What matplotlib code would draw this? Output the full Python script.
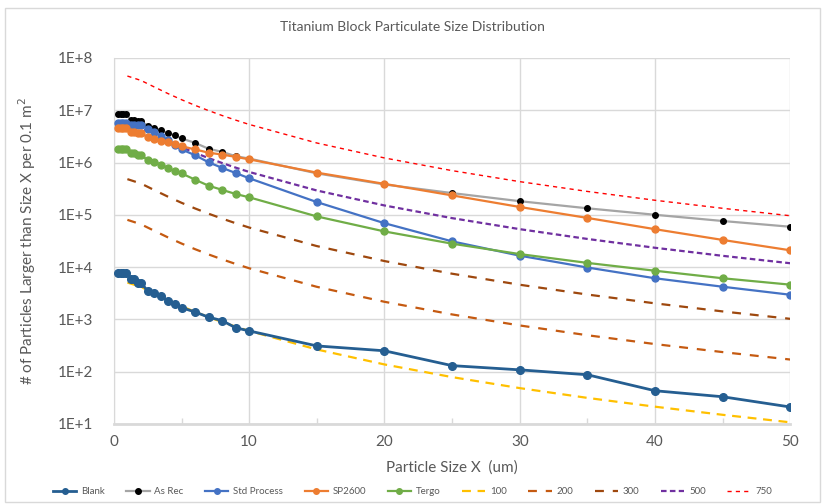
import numpy as np
import matplotlib.pyplot as plt
from matplotlib.patches import Rectangle
from matplotlib.ticker import FuncFormatter, FixedLocator

plt.rcParams['font.family'] = ['Lato', 'DejaVu Sans']

# measured data (particle size in um)
x_data = [0.3, 0.5, 0.7, 0.9, 1.3, 1.5, 1.8, 2.0, 2.5, 3, 3.5, 4, 4.5, 5, 6, 7, 8, 9, 10,
          15, 20, 25, 30, 35, 40, 45, 50]

blank = [7600, 7600, 7600, 7600, 5900, 5900, 5000, 5000, 3500, 3160, 2800, 2240, 1950, 1670,
         1380, 1100, 945, 690, 600, 310, 250, 130, 108, 87, 43, 33, 21]
as_rec = [8.3e6, 8.3e6, 8.3e6, 8.3e6, 6.5e6, 6.5e6, 6.1e6, 6.1e6, 5.1e6, 4.6e6, 4.1e6, 3.64e6,
          3.29e6, 2.88e6, 2.38e6, 1.83e6, 1.6e6, 1.32e6, 1.19e6, 6.2e5, 3.8e5, 2.6e5, 1.82e5,
          1.33e5, 1.0e5, 7.6e4, 5.9e4]
std_process = [5.75e6, 5.75e6, 5.75e6, 5.75e6, 5.2e6, 5.2e6, 5.2e6, 5.2e6, 4.4e6, 3.8e6, 3.2e6,
               2.7e6, 2.2e6, 1.78e6, 1.38e6, 1.01e6, 7.9e5, 6.3e5, 5.0e5, 1.75e5, 6.9e4, 3.1e4,
               1.65e4, 9.8e3, 6.1e3, 4.2e3, 2.95e3]
sp2600 = [4.6e6, 4.6e6, 4.6e6, 4.6e6, 3.9e6, 3.9e6, 3.6e6, 3.6e6, 3.1e6, 2.8e6, 2.6e6, 2.45e6,
          2.3e6, 2.05e6, 1.78e6, 1.54e6, 1.42e6, 1.28e6, 1.15e6, 6.4e5, 3.9e5, 2.35e5, 1.41e5,
          8.7e4, 5.3e4, 3.3e4, 2.09e4]
tergo = [1.78e6, 1.78e6, 1.78e6, 1.78e6, 1.5e6, 1.5e6, 1.4e6, 1.4e6, 1.11e6, 1.03e6, 9.0e5, 7.9e5,
         6.8e5, 6.2e5, 4.7e5, 3.6e5, 3.0e5, 2.5e5, 2.16e5, 9.3e4, 4.8e4, 2.8e4, 1.77e4, 1.2e4,
         8.5e3, 6.1e3, 4.6e3]

# cleanliness level curves
x_level = [1, 2, 3, 4, 5, 6, 7, 8, 9, 10, 15, 20, 25, 30, 35, 40, 45, 50]
lvl_100 = [5058, 4171, 3113, 2335, 1785, 1391, 1103, 889, 726, 600, 265, 137, 78.4, 48.3, 31.4,
           21.3, 14.9, 10.7]
lvl_200 = [79960, 65900, 49220, 36920, 28210, 21990, 17430, 14050, 11470, 9483, 4188, 2165, 1240,
           763, 496, 336, 236, 170]
lvl_300 = [480800, 396500, 296000, 222000, 169600, 132200, 104900, 84500, 69000, 57000, 25190,
           13020, 7455, 4587, 2980, 2020, 1416, 1021]
lvl_500 = [5565000, 4586000, 3424000, 2568000, 1963000, 1530000, 1214000, 977700, 798400, 659800,
           291500, 150700, 86260, 53090, 34480, 23370, 16390, 11820]
lvl_750 = [45100000, 37190000, 27760000, 20830000, 15920000, 12410000, 9840000, 7927000, 6474000,
           5349000, 2363000, 1222000, 699300, 430400, 279600, 189500, 132900, 95810]

txt = '#595959'
fig = plt.figure(figsize=(8.25, 5.04), dpi=100)
ax = fig.add_axes([0.138, 0.159, 0.82, 0.726])

ax.plot(x_data, blank, '-o', color='#255E91', lw=2, ms=5.5, label='Blank', zorder=5)
ax.plot(x_data, as_rec, '-', color='#A5A5A5', lw=1.6, marker='o', ms=4,
        mfc='black', mec='black', label='As Rec', zorder=4)
ax.plot(x_data, std_process, '-o', color='#4472C4', lw=1.6, ms=5, label='Std Process', zorder=4)
ax.plot(x_data, sp2600, '-o', color='#ED7D31', lw=1.6, ms=5, label='SP2600', zorder=4)
ax.plot(x_data, tergo, '-o', color='#70AD47', lw=1.6, ms=5, label='Tergo', zorder=4)
ax.plot(x_level, lvl_100, color='#FFC000', lw=1.6, dashes=(4, 3), label='100', zorder=3)
ax.plot(x_level, lvl_200, color='#C55A11', lw=1.6, dashes=(4, 4), label='200', zorder=3)
ax.plot(x_level, lvl_300, color='#9E480E', lw=1.6, dashes=(4, 4), label='300', zorder=3)
ax.plot(x_level, lvl_500, color='#7030A0', lw=1.6, dashes=(2.5, 1.5), label='500', zorder=3)
ax.plot(x_level, lvl_750, color='#FF0000', lw=1.0, dashes=(3, 3), label='750', zorder=3)

ax.set_yscale('log')
ax.set_ylim(10, 1e8)
ax.set_xlim(0, 50)
ax.yaxis.set_major_locator(FixedLocator([10.0 ** k for k in range(1, 9)]))
ax.yaxis.set_minor_locator(FixedLocator([]))
ax.yaxis.set_major_formatter(FuncFormatter(lambda v, p: f'1E+{int(round(np.log10(v)))}'))
ax.set_xticks([0, 10, 20, 30, 40, 50])
ax.set_xticks([5, 15, 25, 35, 45], minor=True)
ax.tick_params(axis='both', which='major', length=0, labelsize=11, labelcolor=txt)
ax.tick_params(axis='y', which='major', pad=15)
ax.tick_params(axis='x', which='major', pad=8)
ax.tick_params(axis='x', which='minor', direction='in', length=4, color='#D9D9D9', width=1)
ax.grid(True, which='major', color='#D9D9D9', lw=1)
ax.set_axisbelow(True)
for s in ['top', 'right']:
    ax.spines[s].set_visible(False)
ax.spines['left'].set_color('#D9D9D9')
ax.spines['bottom'].set_color('#D9D9D9')
ax.spines['bottom'].set_linewidth(2)

ax.set_xlabel('Particle Size X  (um)', fontsize=11, color=txt, labelpad=8)
ax.set_ylabel('# of Particles Larger than Size X per 0.1 m$^2$', fontsize=11, color=txt, labelpad=14)
fig.text(0.5, 0.946, 'Titanium Block Particulate Size Distribution', ha='center', va='center',
         fontsize=10, color=txt)

leg = fig.legend(loc='center', bbox_to_anchor=(0.5, 0.024), ncol=10, frameon=False, fontsize=7,
                 handlelength=2.4, columnspacing=2.2, handletextpad=0.5, labelcolor=txt)
for h in leg.legend_handles:
    h.set_markersize(4)

fig.patches.append(Rectangle((0.006, 0.004), 0.988, 0.98, transform=fig.transFigure,
                             fill=False, edgecolor='#D9D9D9', lw=1))

plt.savefig('out.png', dpi=100)
